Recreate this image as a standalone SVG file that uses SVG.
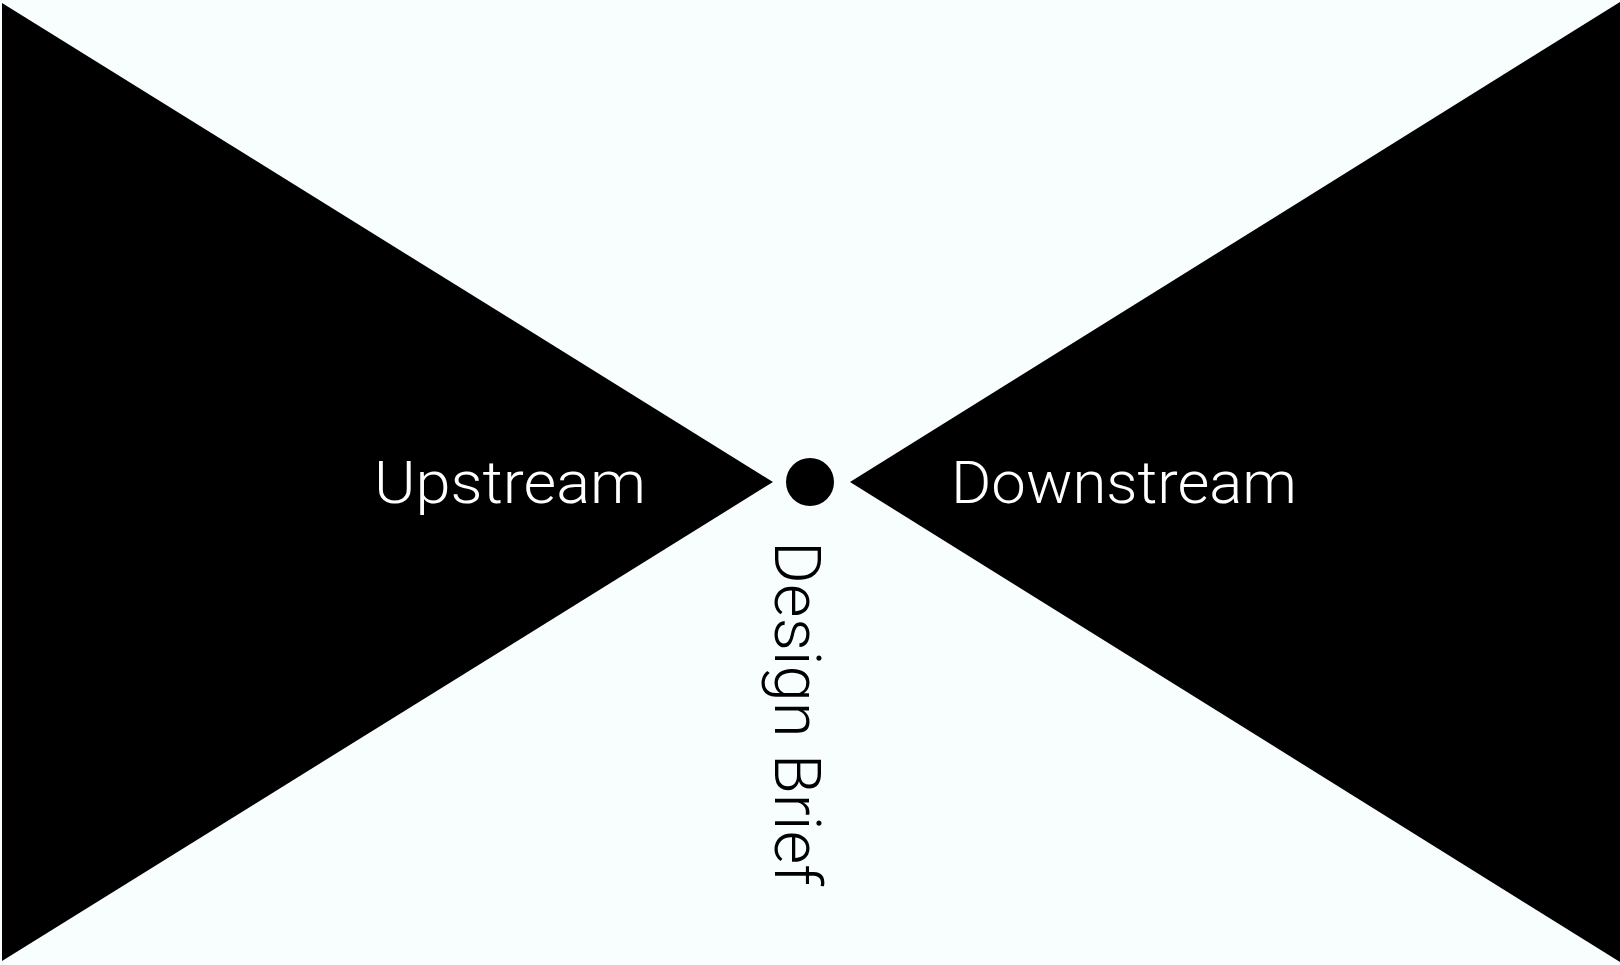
<svg xmlns="http://www.w3.org/2000/svg" width="1620" height="965" viewBox="0 0 1620 965">
  <style>
    .shape { fill: #000; }
    .label { font-family: Roboto, "Liberation Sans", sans-serif; font-weight: 300; }
    .light { fill: #ffffff; }
    .dark { fill: #000000; }
  </style>
  <rect x="0" y="0" width="1620" height="965" fill="#f8fefe"/>

  <g id="upstream">
    <polygon class="shape" points="2,3 773,482 2,961"/>
    <text class="label light" x="374" y="503" font-size="59" textLength="272" lengthAdjust="spacingAndGlyphs">Upstream</text>
  </g>

  <g id="downstream">
    <polygon class="shape" points="850,482 1620,2 1620,962"/>
    <text class="label light" x="951" y="503" font-size="59" textLength="346" lengthAdjust="spacingAndGlyphs">Downstream</text>
  </g>

  <g id="design-brief">
    <circle class="shape" cx="810" cy="482" r="24"/>
    <text class="label dark" transform="translate(775,0) rotate(90)" x="541" y="0" font-size="65" textLength="345" lengthAdjust="spacingAndGlyphs">Design Brief</text>
  </g>

  <g id="connectors"></g>
</svg>
